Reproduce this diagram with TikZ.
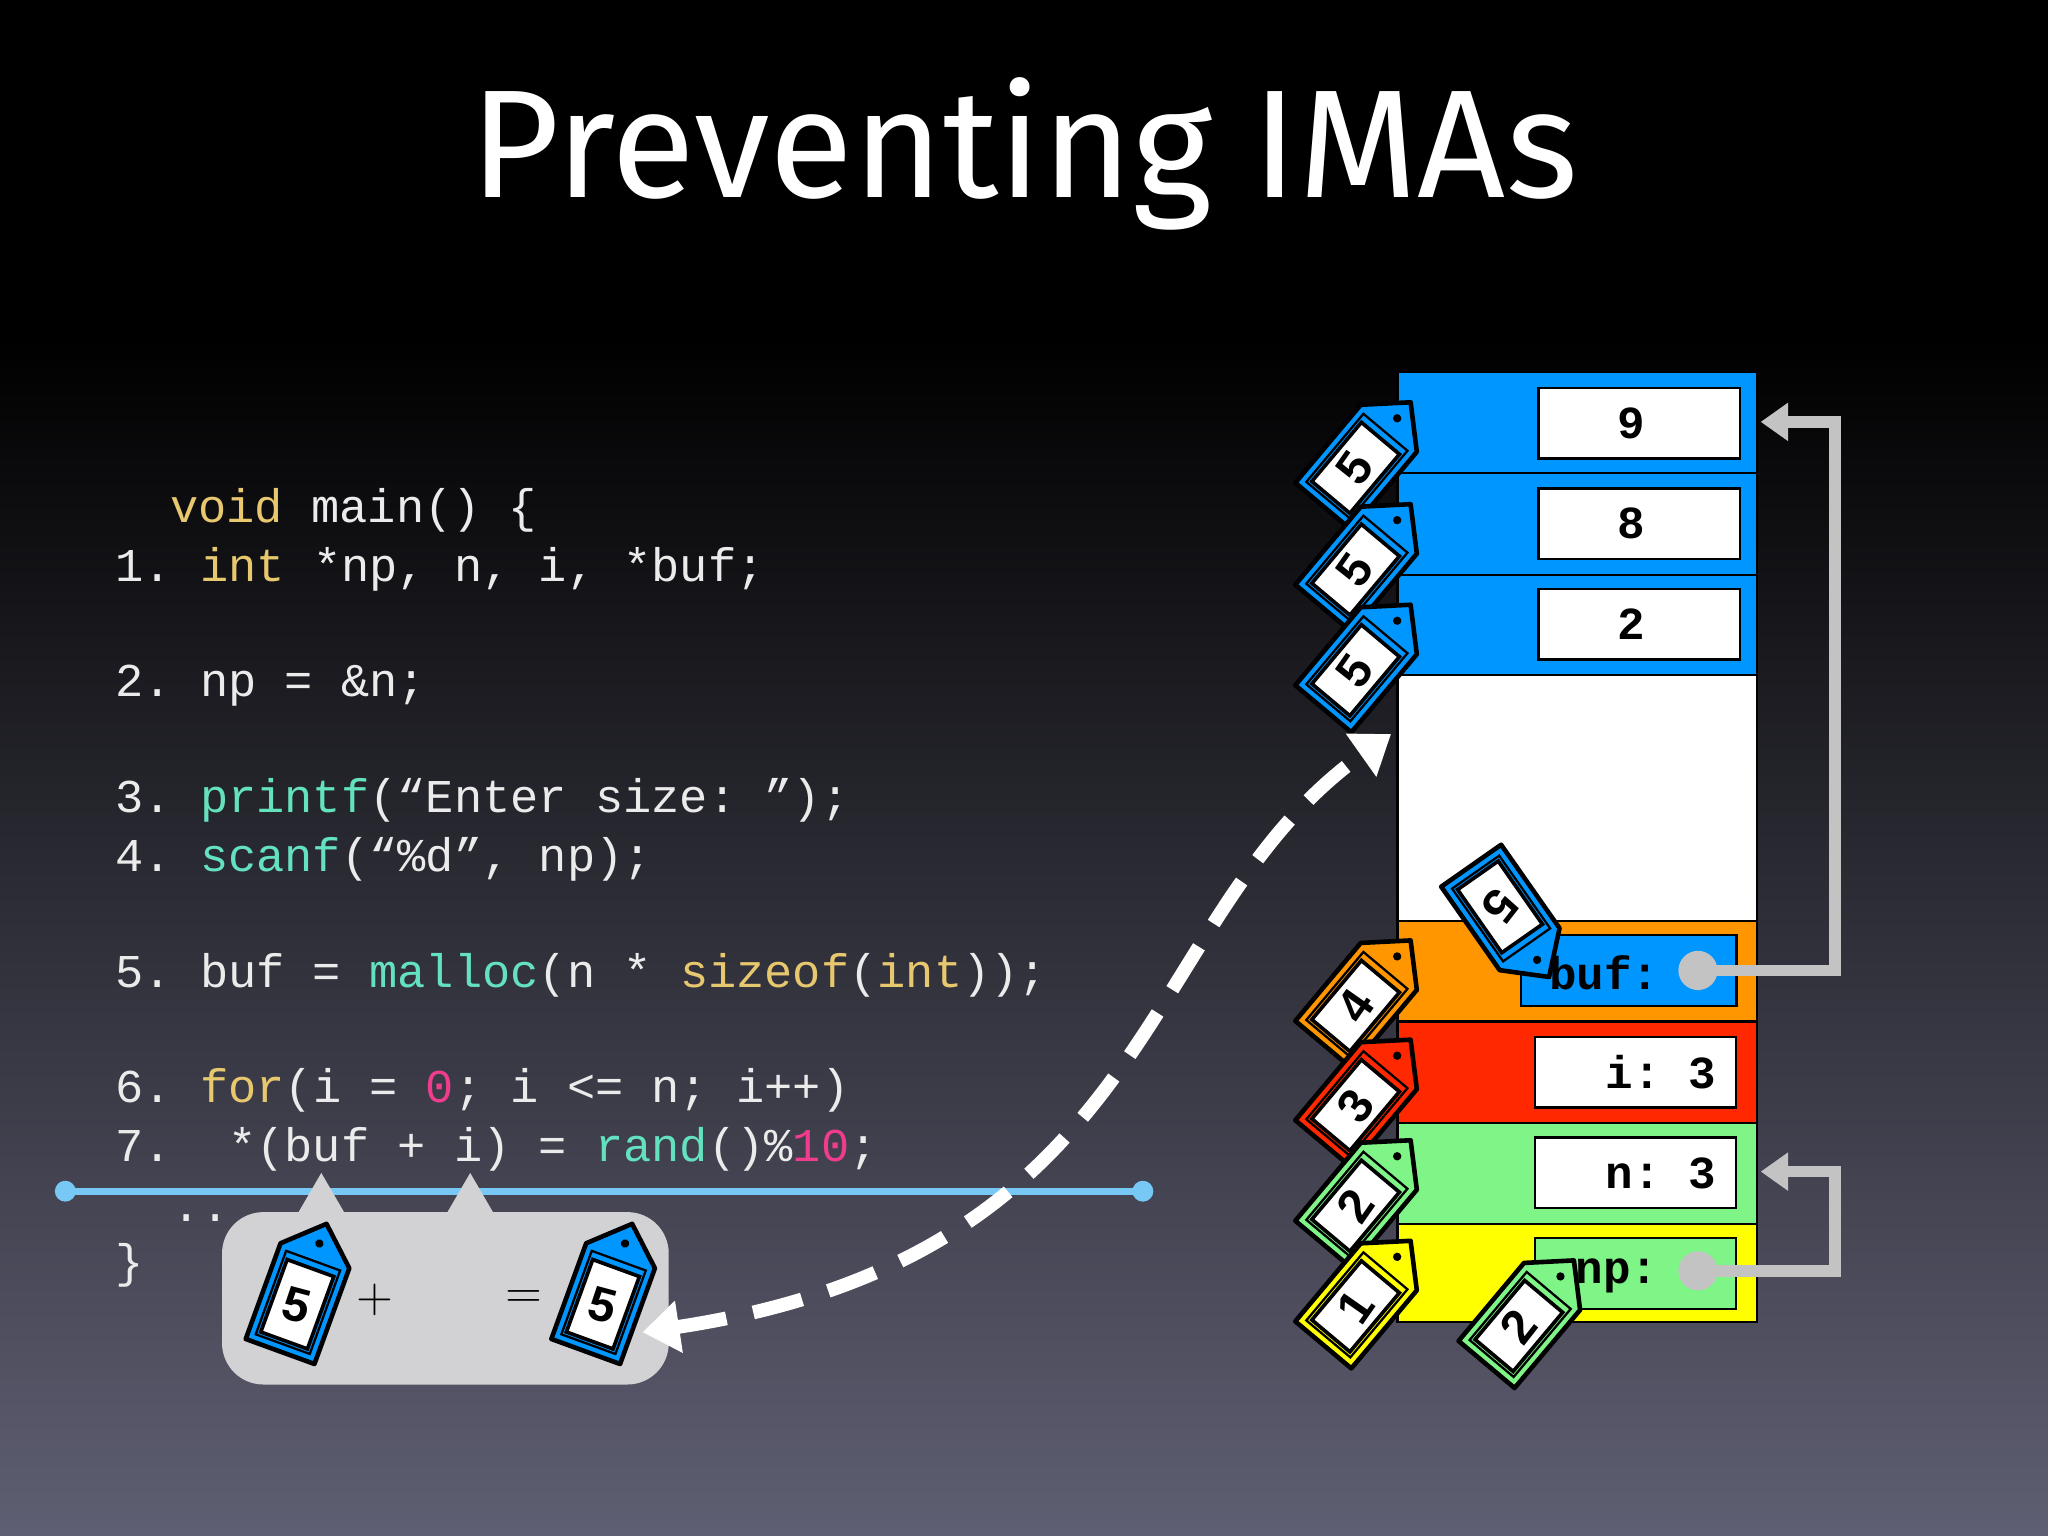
\documentclass[tikz,border=0pt]{standalone}
\usepackage{fontspec}
\setmonofont{Liberation Mono}
\newfontfamily\titlefont{Fira Sans}
\newfontfamily\tagfont{Liberation Sans}
\usetikzlibrary{arrows.meta}
\definecolor{kw}{RGB}{232,200,110}
\definecolor{fn}{RGB}{100,225,190}
\definecolor{nm}{RGB}{240,60,140}
\definecolor{cd}{RGB}{235,235,235}
\definecolor{mblue}{RGB}{0,150,255}
\definecolor{morange}{RGB}{255,150,0}
\definecolor{mred}{RGB}{255,40,0}
\definecolor{mgreen}{RGB}{128,245,135}
\definecolor{myellow}{RGB}{255,255,0}
\definecolor{lblue}{RGB}{120,200,245}
\definecolor{bub}{RGB}{210,210,212}
\definecolor{garr}{RGB}{195,195,195}
\tikzset{
  pics/tagp/.style n args={3}{code={
    \filldraw[fill=#1,draw=black,line width=2pt,line join=round] (0,0) -- (28,-26) -- (28,-104) -- (-28,-104) -- (-28,-26) -- cycle;
    \draw[black,line width=1pt] (22,-30) -- (22,-98) -- (-22,-98) -- (-22,-30) -- cycle;
    \filldraw[fill=white,draw=black,line width=1.6pt] (-19,-36) rectangle (19,-95);
    \fill[black] (0,-16) circle (3.2);
    \node[font=\tagfont\bfseries\fontsize{21}{21}\selectfont,rotate=#3] at (0,-66) {#2};
  }},
  cell/.style={draw=black,line width=1pt},
  val/.style={draw=black,line width=1pt,fill=white,minimum width=154*0.02cm,minimum height=54*0.02cm,inner sep=0pt},
  vtxt/.style={font=\ttfamily\bfseries\fontsize{20}{20}\selectfont,anchor=east},
  code/.style={anchor=base west,font=\ttfamily\fontsize{20.5}{20.5}\selectfont,text=cd,inner sep=0pt},
  garrow/.style={garr,line width=5pt,-{Triangle[length=12pt,width=16pt]}},
}
\begin{document}
\begin{tikzpicture}[x=0.02cm,y=0.02cm]
\useasboundingbox (0,0) rectangle (1568,-1176);
\fill[black] (0,0) rectangle (1568,-260);
\shade[top color=black,bottom color={rgb,255:red,95;green,95;blue,115}] (0,-259) rectangle (1568,-1176);
\node[text=white,font=\titlefont\fontsize{67}{67}\selectfont] (title) at (784,-118) {Preventing IMAs};

% code
\node[code] (c0) at (130,-400) {\textcolor{kw}{void} main() \{};
\node[code] (c1) at (88,-445) {1. \textcolor{kw}{int} *np, n, i, *buf;};
\node[code] (c2) at (88,-533) {2. np = \&n;};
\node[code] (c3) at (88,-622) {3. \textcolor{fn}{printf}(“Enter size: ”);};
\node[code] (c4) at (88,-667) {4. \textcolor{fn}{scanf}(“\%d”, np);};
\node[code] (c5) at (88,-756) {5. buf = \textcolor{fn}{malloc}(n * \textcolor{kw}{sizeof}(\textcolor{kw}{int}));};
\node[code] (c6) at (88,-844) {6. \textcolor{kw}{for}(i = \textcolor{nm}{0}; i <= n; i++)};
\node[code] (c7) at (88,-889) {7.\ \ *(buf + i) = \textcolor{fn}{rand}()\%\textcolor{nm}{10};};
\node[code] (c8) at (132,-935) {..};
\node[code] (c9) at (88,-978) {\}};

% blue line
\coordinate (la) at (50,-912);
\coordinate (lb) at (875,-912);
\draw[lblue,line width=3pt] (la) -- (lb);
\fill[lblue] (la) circle (8) (lb) circle (8);

% bubble
\fill[bub,rounded corners=18] (170,-928) rectangle (512,-1060);
\fill[bub] (228,-929) -- (246,-898) -- (264,-929) -- cycle;
\fill[bub] (342,-929) -- (360,-898) -- (378,-929) -- cycle;
\pic[rotate=-20] at (250,-937) {tagp={mblue}{5}{-15}};
\node[font=\sffamily\fontsize{22}{22}\selectfont] (plus) at (287,-995) {+};
\node[font=\sffamily\fontsize{22}{22}\selectfont] (eq) at (401,-995) {=};
\pic[rotate=-20] at (484,-937) {tagp={mblue}{5}{-15}};

% memory
\filldraw[cell,fill=mblue] (1070,-285) rectangle (1345,-362);
\filldraw[cell,fill=mblue] (1070,-362) rectangle (1345,-440);
\filldraw[cell,fill=mblue] (1070,-440) rectangle (1345,-517);
\filldraw[cell,fill=white] (1070,-517) rectangle (1345,-705);
\filldraw[cell,fill=morange] (1070,-705) rectangle (1345,-782);
\filldraw[cell,fill=mred] (1070,-782) rectangle (1345,-860);
\filldraw[cell,fill=mgreen] (1070,-860) rectangle (1345,-937);
\filldraw[cell,fill=myellow] (1070,-937) rectangle (1345,-1012);
\node[val] (v9) at (1255,-324) {}; \node[vtxt] at (1266,-324) {9};
\node[val] (v8) at (1255,-401) {}; \node[vtxt] at (1266,-401) {8};
\node[val] (v2) at (1255,-478) {}; \node[vtxt] at (1266,-478) {2};
\node[val,fill=mblue,minimum width=165*0.02cm] (vbuf) at (1247,-743) {};
\node[vtxt,anchor=west] at (1180,-745) {buf:};
\node[val] (vi) at (1252,-821) {}; \node[vtxt] at (1320,-821) {i: 3};
\node[val] (vn) at (1252,-898) {}; \node[vtxt] at (1320,-898) {n: 3};
\node[val,fill=mgreen] (vnp) at (1252,-975) {};
\node[vtxt,anchor=west] at (1200,-977) {np:};
\coordinate (dbuf) at (1300,-743);
\coordinate (dnp) at (1300,-973);
\fill[garr] (dbuf) circle (15) (dnp) circle (15);
\draw[garrow] (dbuf) -- (1405,-743) -- (1405,-323) -- (1348,-323);
\draw[garrow] (dnp) -- (1405,-973) -- (1405,-897) -- (1348,-897);

% tags
\pic[rotate=-40] at (1080,-308) {tagp={mblue}{5}{55}};
\pic[rotate=-40] at (1080,-386) {tagp={mblue}{5}{55}};
\pic[rotate=-40] at (1080,-463) {tagp={mblue}{5}{55}};
\pic[rotate=-145] at (1186,-748) {tagp={mblue}{5}{232}};
\pic[rotate=-40] at (1080,-720) {tagp={morange}{4}{55}};
\pic[rotate=-40] at (1080,-796) {tagp={mred}{3}{55}};
\pic[rotate=-40] at (1080,-873) {tagp={mgreen}{2}{55}};
\pic[rotate=-40] at (1080,-950) {tagp={myellow}{1}{55}};
\pic[rotate=-40] at (1205,-965) {tagp={mgreen}{2}{52}};

% dashed arrow
\coordinate (ds) at (492,-1020);
\coordinate (de) at (1065,-562);
\draw[white,line width=6pt,dash pattern=on 22pt off 12pt,{Triangle[length=16pt,width=22pt]}-{Triangle[length=16pt,width=22pt]}] (ds) .. controls (890,-960) and (870,-700) .. (de);
\end{tikzpicture}
\end{document}
